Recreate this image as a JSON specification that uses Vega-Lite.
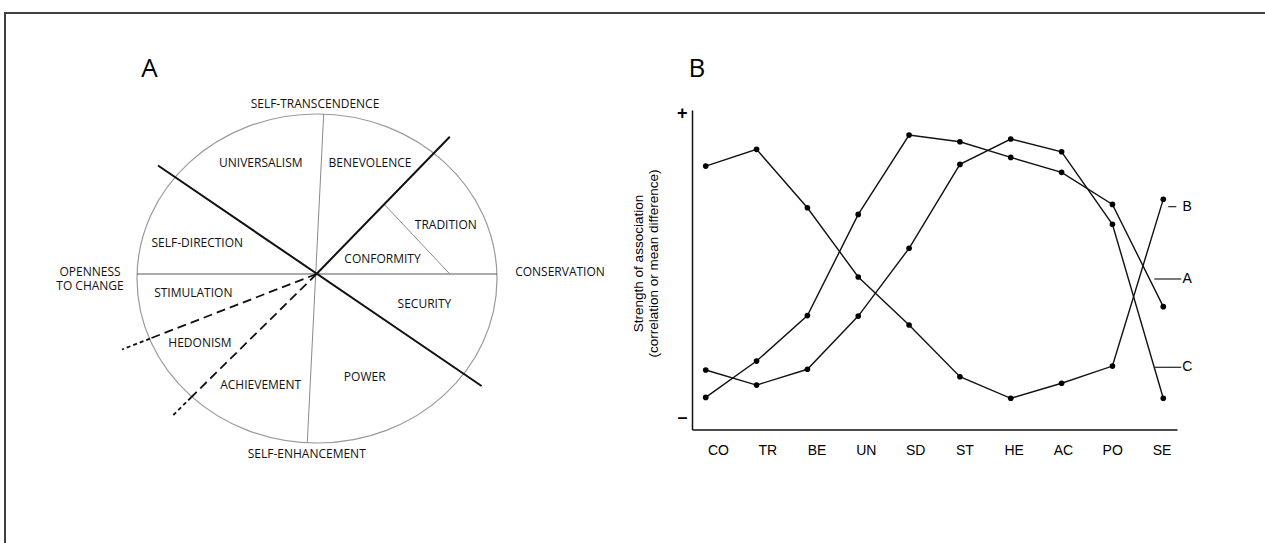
{
  "$schema": "https://vega.github.io/schema/vega-lite/v6.json",
  "width": 1265,
  "height": 543,
  "autosize": {"type": "none"},
  "padding": 0,
  "background": "white",
  "config": {"view": {"stroke": null}, "axis": {"grid": false}},
  "datasets": {
    "frame": [
      {"edge": "top", "x": -1.7333, "y": 1.614, "x2": 6, "y2": 1.614},
      {"edge": "left", "x": -1.7333, "y": 1.614, "x2": -1.7333, "y2": -2}
    ],
    "ring": [{"name": "value circle", "cx": 0, "cy": 0}],
    "segs": [
      {"type": "axis", "x": -1, "y": 0.0274, "x2": 1, "y2": 0.0274},
      {"type": "minor", "x": 0.0372, "y": 1.0, "x2": -0.0539, "y2": -0.997},
      {"type": "minor", "x": 0.3772, "y": 0.4468, "x2": 0.7378, "y2": 0.0274},
      {"type": "major", "x": -0.8833, "y": 0.6869, "x2": 0.9144, "y2": -0.6535},
      {"type": "major", "x": -0.0028, "y": 0.0274, "x2": 0.7378, "y2": 0.8614},
      {"type": "dashed-inner", "x": -0.0028, "y": 0.0274, "x2": -0.9278, "y2": -0.3653},
      {"type": "dashed-inner", "x": -0.0028, "y": 0.0274, "x2": -0.7, "y2": -0.7234},
      {"type": "dashed-outer", "x": -0.9278, "y": -0.3653, "x2": -1.0833, "y2": -0.4316},
      {"type": "dashed-outer", "x": -0.7, "y": -0.7234, "x2": -0.7983, "y2": -0.8298}
    ],
    "regionLabels": [
      {"t": "SELF-TRANSCENDENCE", "x": -0.0111, "y": 1.0608},
      {"t": "UNIVERSALISM", "x": -0.3122, "y": 0.7003},
      {"t": "BENEVOLENCE", "x": 0.2944, "y": 0.704},
      {"t": "TRADITION", "x": 0.7156, "y": 0.3252},
      {"t": "CONFORMITY", "x": 0.3639, "y": 0.1198},
      {"t": "CONSERVATION", "x": 1.35, "y": 0.0395},
      {"t": "SECURITY", "x": 0.5967, "y": -0.155},
      {"t": "POWER", "x": 0.265, "y": -0.5964},
      {"t": "ACHIEVEMENT", "x": -0.3128, "y": -0.6474},
      {"t": "SELF-ENHANCEMENT", "x": -0.0572, "y": -1.0669},
      {"t": "HEDONISM", "x": -0.65, "y": -0.3903},
      {"t": "STIMULATION", "x": -0.6872, "y": -0.0863},
      {"t": "SELF-DIRECTION", "x": -0.665, "y": 0.214},
      {"t": "OPENNESS", "x": -1.2611, "y": 0.0413},
      {"t": "TO CHANGE", "x": -1.2611, "y": -0.0474}
    ],
    "panels": [
      {"t": "A", "x": -0.9306, "y": 1.2249},
      {"t": "B", "x": 2.1111, "y": 1.2249}
    ],
    "series": [
      {"series": "B", "code": "CO", "value": 0.653},
      {"series": "B", "code": "TR", "value": 0.763},
      {"series": "B", "code": "BE", "value": 0.379},
      {"series": "B", "code": "UN", "value": -0.077},
      {"series": "B", "code": "SD", "value": -0.393},
      {"series": "B", "code": "ST", "value": -0.733},
      {"series": "B", "code": "HE", "value": -0.875},
      {"series": "B", "code": "AC", "value": -0.776},
      {"series": "B", "code": "PO", "value": -0.663},
      {"series": "B", "code": "SE", "value": 0.434},
      {"series": "A", "code": "CO", "value": -0.869},
      {"series": "A", "code": "TR", "value": -0.63},
      {"series": "A", "code": "BE", "value": -0.331},
      {"series": "A", "code": "UN", "value": 0.335},
      {"series": "A", "code": "SD", "value": 0.857},
      {"series": "A", "code": "ST", "value": 0.813},
      {"series": "A", "code": "HE", "value": 0.71},
      {"series": "A", "code": "AC", "value": 0.612},
      {"series": "A", "code": "PO", "value": 0.401},
      {"series": "A", "code": "SE", "value": -0.272},
      {"series": "C", "code": "CO", "value": -0.689},
      {"series": "C", "code": "TR", "value": -0.788},
      {"series": "C", "code": "BE", "value": -0.684},
      {"series": "C", "code": "UN", "value": -0.334},
      {"series": "C", "code": "SD", "value": 0.112},
      {"series": "C", "code": "ST", "value": 0.664},
      {"series": "C", "code": "HE", "value": 0.831},
      {"series": "C", "code": "AC", "value": 0.747},
      {"series": "C", "code": "PO", "value": 0.27},
      {"series": "C", "code": "SE", "value": -0.875}
    ],
    "tags": [
      {"label": "B", "value": 0.386},
      {"label": "A", "value": -0.09},
      {"label": "C", "value": -0.671}
    ],
    "codes": [
      {"code": "CO"}, {"code": "TR"}, {"code": "BE"}, {"code": "UN"}, {"code": "SD"},
      {"code": "ST"}, {"code": "HE"}, {"code": "AC"}, {"code": "PO"}, {"code": "SE"}
    ]
  },
  "layer": [
    {
      "layer": [
        {
          "data": {"name": "frame"},
          "mark": {"type": "rule", "color": "#404040", "strokeWidth": 2, "strokeCap": "square"},
          "encoding": {
            "x": {"field": "x", "type": "quantitative", "scale": {"domain": [-1, 1], "range": [137, 497], "nice": false, "zero": false}, "axis": null},
            "y": {"field": "y", "type": "quantitative", "scale": {"domain": [-1, 1], "range": [443, 114], "nice": false, "zero": false}, "axis": null},
            "x2": {"field": "x2"},
            "y2": {"field": "y2"}
          }
        },
        {
          "data": {"name": "ring"},
          "mark": {"type": "point", "shape": "M-1,0A1,0.9139,0,1,1,1,0A1,0.9139,0,1,1,-1,0Z", "size": 129600, "filled": false, "stroke": "#9a9a9a", "strokeWidth": 1.2, "opacity": 1},
          "encoding": {
            "x": {"field": "cx", "type": "quantitative", "axis": null},
            "y": {"field": "cy", "type": "quantitative", "axis": null}
          }
        },
        {
          "data": {"name": "segs"},
          "transform": [{"filter": "datum.type === 'axis'"}],
          "mark": {"type": "rule", "color": "#5a5a5a", "strokeWidth": 1},
          "encoding": {
            "x": {"field": "x", "type": "quantitative", "axis": null},
            "y": {"field": "y", "type": "quantitative", "axis": null},
            "x2": {"field": "x2"}, "y2": {"field": "y2"}
          }
        },
        {
          "data": {"name": "segs"},
          "transform": [{"filter": "datum.type === 'minor'"}],
          "mark": {"type": "rule", "color": "#8a8a8a", "strokeWidth": 1},
          "encoding": {
            "x": {"field": "x", "type": "quantitative", "axis": null},
            "y": {"field": "y", "type": "quantitative", "axis": null},
            "x2": {"field": "x2"}, "y2": {"field": "y2"}
          }
        },
        {
          "data": {"name": "segs"},
          "transform": [{"filter": "datum.type === 'major'"}],
          "mark": {"type": "rule", "color": "#111111", "strokeWidth": 2},
          "encoding": {
            "x": {"field": "x", "type": "quantitative", "axis": null},
            "y": {"field": "y", "type": "quantitative", "axis": null},
            "x2": {"field": "x2"}, "y2": {"field": "y2"}
          }
        },
        {
          "data": {"name": "segs"},
          "transform": [{"filter": "datum.type === 'dashed-inner'"}],
          "mark": {"type": "rule", "color": "#111111", "strokeWidth": 1.8, "strokeDash": [9, 5]},
          "encoding": {
            "x": {"field": "x", "type": "quantitative", "axis": null},
            "y": {"field": "y", "type": "quantitative", "axis": null},
            "x2": {"field": "x2"}, "y2": {"field": "y2"}
          }
        },
        {
          "data": {"name": "segs"},
          "transform": [{"filter": "datum.type === 'dashed-outer'"}],
          "mark": {"type": "rule", "color": "#111111", "strokeWidth": 1.8, "strokeDash": [4, 3]},
          "encoding": {
            "x": {"field": "x", "type": "quantitative", "axis": null},
            "y": {"field": "y", "type": "quantitative", "axis": null},
            "x2": {"field": "x2"}, "y2": {"field": "y2"}
          }
        },
        {
          "data": {"name": "regionLabels"},
          "mark": {"type": "text", "font": "Open Sans", "fontSize": 12, "color": "#111111", "align": "center", "baseline": "middle"},
          "encoding": {
            "x": {"field": "x", "type": "quantitative", "axis": null},
            "y": {"field": "y", "type": "quantitative", "axis": null},
            "text": {"field": "t"}
          }
        },
        {
          "data": {"name": "panels"},
          "mark": {"type": "text", "font": "Open Sans", "fontSize": 26, "color": "#000000", "align": "center", "baseline": "alphabetic"},
          "encoding": {
            "x": {"field": "x", "type": "quantitative", "axis": null},
            "y": {"field": "y", "type": "quantitative", "axis": null},
            "text": {"field": "t"}
          }
        }
      ]
    },
    {
      "data": {"name": "series"},
      "encoding": {
        "x": {
          "field": "code", "type": "ordinal",
          "scale": {"type": "point", "domain": ["CO", "TR", "BE", "UN", "SD", "ST", "HE", "AC", "PO", "SE"], "range": [692, 1177], "padding": 0.27},
          "axis": {"orient": "bottom", "offset": -113.4, "title": null, "labels": false, "ticks": false, "domain": true, "domainColor": "#111111", "domainWidth": 1.5, "grid": false}
        },
        "y": {
          "field": "value", "type": "quantitative",
          "scale": {"domain": [-1.081, 1.022], "range": [429.6, 110], "nice": false, "zero": false},
          "axis": {
            "orient": "left", "offset": -692, "values": [-1, 1],
            "labelExpr": "datum.value > 0 ? '+' : '–'",
            "ticks": false, "grid": false, "domainColor": "#111111", "domainWidth": 1.5,
            "labelFont": "Liberation Sans", "labelFontSize": 18, "labelFontWeight": "bold", "labelColor": "#000000",
            "labelPadding": 5, "labelFlush": false, "labelBound": false, "labelOverlap": false,
            "title": ["Strength of association", "(correlation or mean difference)"],
            "titleFont": "Liberation Sans", "titleFontSize": 13.5, "titleFontWeight": "normal", "titleColor": "#000000",
            "titleAngle": -90, "titleX": -53.5, "titleY": 263, "titleAlign": "center", "titleBaseline": "middle", "titleLineHeight": 15
          }
        }
      },
      "layer": [
        {
          "mark": {"type": "line", "color": "#111111", "strokeWidth": 1.4},
          "encoding": {"detail": {"field": "series"}, "order": {"value": null}}
        },
        {
          "mark": {"type": "point", "shape": "circle", "filled": true, "size": 32, "color": "#000000", "opacity": 1},
          "encoding": {"detail": {"field": "series"}}
        },
        {
          "data": {"name": "tags"},
          "transform": [{"filter": "datum.label === 'B'"}],
          "mark": {"type": "rule", "color": "#222222", "strokeWidth": 1.2, "xOffset": 5, "x2Offset": 13},
          "encoding": {
            "x": {"datum": "SE", "type": "ordinal"},
            "x2": {"datum": "SE"},
            "y": {"field": "value", "type": "quantitative"}
          }
        },
        {
          "data": {"name": "tags"},
          "transform": [{"filter": "datum.label !== 'B'"}],
          "mark": {"type": "rule", "color": "#222222", "strokeWidth": 1.2, "xOffset": -9, "x2Offset": 18},
          "encoding": {
            "x": {"datum": "SE", "type": "ordinal"},
            "x2": {"datum": "SE"},
            "y": {"field": "value", "type": "quantitative"}
          }
        },
        {
          "data": {"name": "tags"},
          "mark": {"type": "text", "font": "Liberation Sans", "fontSize": 14, "color": "#000000", "dx": 24, "align": "center", "baseline": "middle"},
          "encoding": {
            "x": {"datum": "SE", "type": "ordinal"},
            "y": {"field": "value", "type": "quantitative"},
            "text": {"field": "label"}
          }
        }
      ]
    },
    {
      "data": {"name": "codes"},
      "mark": {"type": "text", "font": "Liberation Sans", "fontSize": 14, "color": "#000000", "align": "center", "baseline": "alphabetic"},
      "encoding": {
        "x": {"field": "code", "type": "ordinal", "scale": {"type": "point", "domain": ["CO", "TR", "BE", "UN", "SD", "ST", "HE", "AC", "PO", "SE"], "range": [718.5, 1162], "padding": 0}, "axis": null},
        "y": {"datum": -1.248, "type": "quantitative", "scale": {"domain": [-1.081, 1.022], "range": [429.6, 110], "nice": false, "zero": false}, "axis": null},
        "text": {"field": "code"}
      }
    }
  ],
  "resolve": {"scale": {"x": "independent", "y": "independent"}, "axis": {"x": "independent", "y": "independent"}}
}
